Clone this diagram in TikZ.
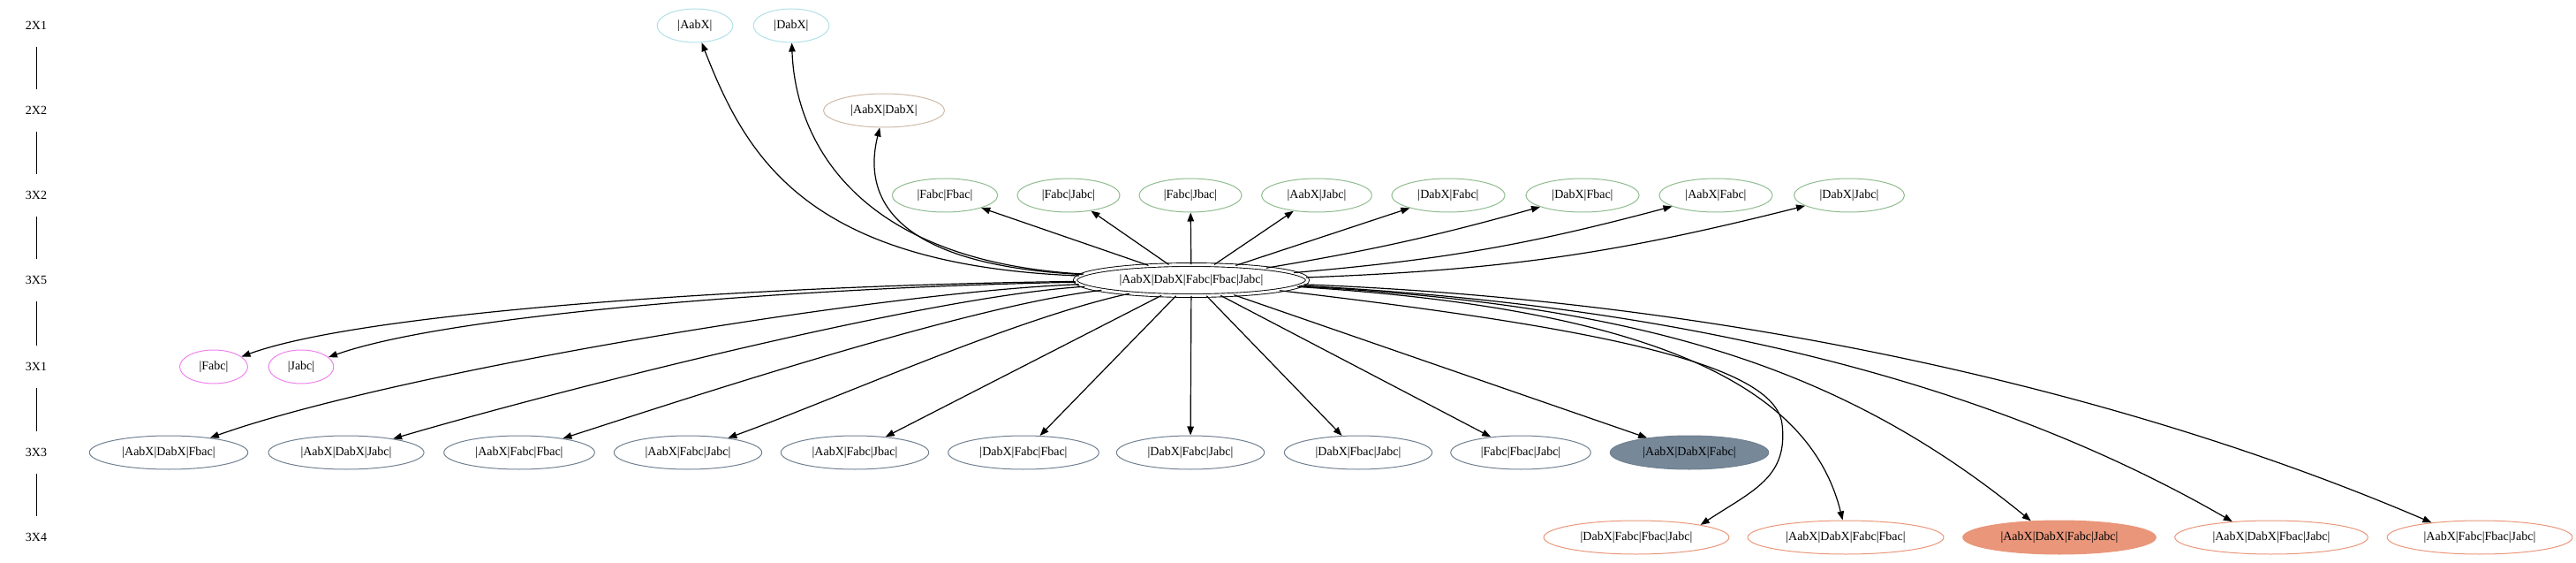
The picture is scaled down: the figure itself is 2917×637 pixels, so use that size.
\documentclass[tikz,border=0pt]{standalone}
\usepackage{fontspec}
\setmainfont{Liberation Serif}
\usetikzlibrary{shapes.geometric,arrows.meta}
\definecolor{cTop}{HTML}{B0E0E6}
\definecolor{cTwo}{RGB}{205,186,168}
\definecolor{cGreen}{HTML}{8FBC8F}
\definecolor{cViolet}{HTML}{EE82EE}
\definecolor{cSlate}{HTML}{708090}
\definecolor{cSlateFill}{HTML}{778899}
\definecolor{cSalmon}{HTML}{E9967A}
\begin{document}
\begin{tikzpicture}[x=1bp,y=-1bp,
  every node/.style={font=\fontsize{14bp}{16bp}\selectfont},
  nd/.style={ellipse, draw, line width=1bp, minimum height=38bp, inner xsep=10.8bp, inner ysep=1bp},
  topn/.style={nd, draw=cTop},
  twon/.style={nd, draw=cTwo},
  grn/.style={nd, draw=cGreen},
  vio/.style={nd, draw=cViolet},
  sln/.style={nd, draw=cSlate},
  slf/.style={nd, draw=cSlate, fill=cSlateFill},
  sal/.style={nd, draw=cSalmon},
  salf/.style={nd, draw=cSalmon, fill=cSalmon},
  rank/.style={inner sep=0pt, minimum height=48bp},
  rk/.style={line width=1bp},
  arr/.style={line width=1.2bp, -{Triangle[length=10bp,width=7.5bp]}}]
\useasboundingbox (0,0) rectangle (2917,637);
% rank labels
\node[rank] (r1) at (41,29) {2X1};
\node[rank] (r2) at (41,125) {2X2};
\node[rank] (r3) at (41,221) {3X2};
\node[rank] (r4) at (41,317) {3X5};
\node[rank] (r5) at (41,415) {3X1};
\node[rank] (r6) at (41,512) {3X3};
\node[rank] (r7) at (41,608) {3X4};
\draw[rk] (r1) -- (r2);
\draw[rk] (r2) -- (r3);
\draw[rk] (r3) -- (r4);
\draw[rk] (r4) -- (r5);
\draw[rk] (r5) -- (r6);
\draw[rk] (r6) -- (r7);
% 2X1
\node[topn] (a1) at (787,29) {|AabX|};
\node[topn] (a2) at (896,29) {|DabX|};
% 2X2
\node[twon] (b1) at (1001,125) {|AabX|DabX|};
% 3X2
\node[grn] (g1) at (1070,221) {|Fabc|Fbac|};
\node[grn] (g2) at (1210,221) {|Fabc|Jabc|};
\node[grn] (g3) at (1348,221) {|Fabc|Jbac|};
\node[grn] (g4) at (1491,221) {|AabX|Jabc|};
\node[grn] (g5) at (1640,221) {|DabX|Fabc|};
\node[grn] (g6) at (1792,221) {|DabX|Fbac|};
\node[grn] (g7) at (1943,221) {|AabX|Fabc|};
\node[grn] (g8) at (2094,221) {|DabX|Jabc|};
% 3X5
\node[ellipse, draw, line width=0.9bp, double, double distance=3bp, minimum width=263bp, minimum height=35bp, inner xsep=10.8bp] (c) at (1349,317) {|AabX|DabX|Fabc|Fbac|Jabc|};
% 3X1
\node[vio] (v1) at (242,415) {|Fabc|};
\node[vio] (v2) at (341,415) {|Jabc|};
% 3X3
\node[sln] (s1) at (191,512) {|AabX|DabX|Fbac|};
\node[sln] (s2) at (392,512) {|AabX|DabX|Jabc|};
\node[sln] (s3) at (588,512) {|AabX|Fabc|Fbac|};
\node[sln] (s4) at (779,512) {|AabX|Fabc|Jabc|};
\node[sln] (s5) at (968,512) {|AabX|Fabc|Jbac|};
\node[sln] (s6) at (1159,512) {|DabX|Fabc|Fbac|};
\node[sln] (s7) at (1348,512) {|DabX|Fabc|Jabc|};
\node[sln] (s8) at (1538,512) {|DabX|Fbac|Jabc|};
\node[sln] (s9) at (1722,512) {|Fabc|Fbac|Jabc|};
\node[slf] (s10) at (1913,512) {|AabX|DabX|Fabc|};
% 3X4
\node[sal] (o1) at (1853,608) {|DabX|Fabc|Fbac|Jabc|};
\node[sal] (o2) at (2090,608) {|AabX|DabX|Fabc|Fbac|};
\node[salf] (o3) at (2332,608) {|AabX|DabX|Fabc|Jabc|};
\node[sal] (o4) at (2572,608) {|AabX|DabX|Fbac|Jabc|};
\node[sal] (o5) at (2808,608) {|AabX|Fabc|Fbac|Jabc|};
% edges upward
\draw[arr] (c) .. controls (912,300) and (845,177) .. (a1);
\draw[arr] (c) .. controls (960,295) and (900,150) .. (a2);
\draw[arr] (c) .. controls (1020,300) and (975,230) .. (b1);
\draw[arr] (c) -- (g1);
\draw[arr] (c) -- (g2);
\draw[arr] (c) -- (g3);
\draw[arr] (c) -- (g4);
\draw[arr] (c) -- (g5);
\draw[arr] (c) to[bend right=3] (g6);
\draw[arr] (c) to[bend right=5] (g7);
\draw[arr] (c) to[bend right=6] (g8);
% edges down-left
\draw[arr] (c) .. controls (900,322) and (420,350) .. (v1);
\draw[arr] (c) .. controls (950,324) and (520,352) .. (v2);
\draw[arr] (c) .. controls (1000,330) and (450,420) .. (s1);
\draw[arr] (c) .. controls (1050,335) and (620,445) .. (s2);
\draw[arr] (c) .. controls (1100,345) and (780,450) .. (s3);
\draw[arr] (c) .. controls (1150,360) and (950,450) .. (s4);
\draw[arr] (c) -- (s5);
\draw[arr] (c) -- (s6);
\draw[arr] (c) -- (s7);
\draw[arr] (c) -- (s8);
\draw[arr] (c) -- (s9);
\draw[arr] (c) -- (s10);
% edges to 3X4
\draw[arr] (c) .. controls (1800,370) and (2010,410) .. (2018,480) .. controls (2025,540) and (1985,555) .. (o1.11);
\draw[arr] (c) .. controls (1880,350) and (2050,440) .. (o2.100);
\draw[arr] (c) .. controls (1850,345) and (2080,410) .. (o3.150);
\draw[arr] (c) .. controls (1900,345) and (2250,430) .. (o4.158);
\draw[arr] (c) .. controls (1950,340) and (2400,440) .. (o5.163);
\end{tikzpicture}
\end{document}
